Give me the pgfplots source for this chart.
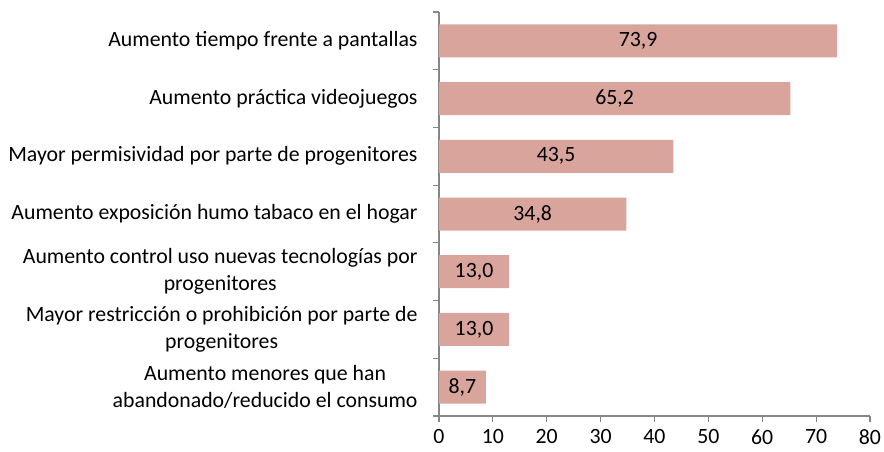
\documentclass[border=0pt]{standalone}
\usepackage{pgfplots}
\pgfplotsset{compat=1.18}
\usepackage{fontspec}
\setmainfont{Carlito}
\definecolor{barc}{HTML}{D9A49C}
\definecolor{axc}{HTML}{868686}
\begin{document}
\fontsize{21.8pt}{27pt}\selectfont
\begin{tikzpicture}
\begin{axis}[
  scale only axis, width=431pt, height=404pt,
  xmin=0, xmax=80, xtick={0,10,...,80},
  ymin=-0.5, ymax=6.5, y dir=reverse,
  ytick={0,...,6},
  yticklabels={
    {Aumento tiempo frente a pantallas},
    {Aumento práctica videojuegos},
    {Mayor permisividad por parte de progenitores},
    {Aumento exposición humo tabaco en el hogar},
    {Aumento control uso nuevas tecnologías por\\progenitores},
    {Mayor restricción o prohibición por parte de\\progenitores},
    {Aumento menores que han\\abandonado/reducido el consumo}},
  minor ytick={-0.5,0.5,...,6.5},
  axis x line*=bottom, axis y line*=left,
  axis line style={axc, line width=1.1pt, -},
  tick style={axc, line width=1.1pt},
  major tick length=6pt, minor tick length=6pt,
  tick align=outside,
  major y tick style={draw=none},
  yticklabel style={align=center, xshift=-8pt, font=\fontsize{21.8pt}{27pt}\selectfont},
  xticklabel style={font=\fontsize{21.8pt}{27pt}\selectfont},
  /pgf/number format/assume math mode=true,
  xbar, bar width=33pt,
  point meta=explicit symbolic,
  nodes near coords,
  visualization depends on={x \as \rawx},
  every node near coord/.append style={anchor=center, black,
    font=\fontsize{21.8pt}{27pt}\selectfont,
    shift={(axis direction cs:-\rawx/2,0)}},
]
\addplot[fill=barc, draw=none] table[x=v, y=c, meta=l] {
c v l
0 73.9 73,9
1 65.2 65,2
2 43.5 43,5
3 34.8 34,8
4 13.0 13,0
5 13.0 13,0
6 8.7 8,7
};
\coordinate (sw) at (rel axis cs:0,0);
\end{axis}
\pgfresetboundingbox
\path[use as bounding box] (sw) ++(-439pt,-35pt) rectangle ++(884pt,451pt);
\end{tikzpicture}
\end{document}
